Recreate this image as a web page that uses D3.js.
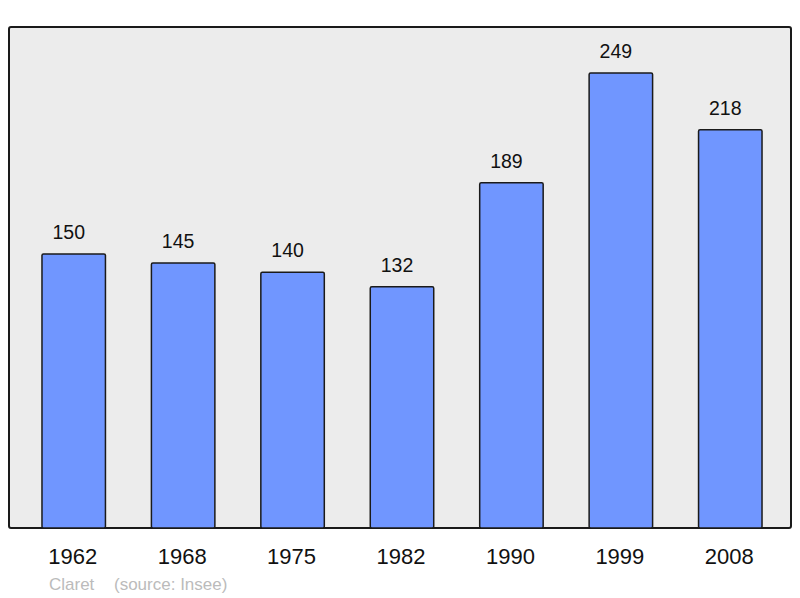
<!DOCTYPE html>
<html>
<head>
<meta charset="utf-8">
<script src="https://cdn.jsdelivr.net/npm/d3@7"></script>
<style>
  body { margin: 0; background: #fff; }
  text { font-family: "Liberation Sans", Arial, sans-serif; }
</style>
</head>
<body>
<div id="chart"></div>
<script>
// population by census year
const years = ["1962", "1968", "1975", "1982", "1990", "1999", "2008"];
const population = [150, 145, 140, 132, 189, 249, 218];
const footerName = "Claret";
const footerSource = "(source: Insee)";

const width = 800, height = 598;
const panel = { left: 9, top: 27, right: 791, bottom: 528 };

const svg = d3.select("#chart").append("svg")
  .attr("width", width)
  .attr("height", height);

// background panel
svg.append("rect")
  .attr("x", panel.left)
  .attr("y", panel.top)
  .attr("width", panel.right - panel.left)
  .attr("height", panel.bottom - panel.top)
  .attr("rx", 2)
  .attr("fill", "#ececec")
  .attr("stroke", "#1a1a1a")
  .attr("stroke-width", 2);

const data = years.map((y, i) => ({ year: y, value: population[i] }));

const x = d3.scaleBand()
  .domain(years)
  .range([19, 785])
  .paddingInner(0.42)
  .paddingOuter(0.21);

const y = d3.scaleLinear()
  .domain([0, 249])
  .range([panel.bottom, 73]);

// bars
svg.append("g")
  .selectAll("rect")
  .data(data)
  .enter()
  .append("rect")
  .attr("x", (d) => x(d.year))
  .attr("y", (d) => y(d.value))
  .attr("width", x.bandwidth())
  .attr("height", (d) => y(0) - y(d.value))
  .attr("rx", 1.5)
  .attr("fill", "#7096ff")
  .attr("stroke", "#1a1a1a")
  .attr("stroke-width", 1.5);

// value labels (sit a little left of the bar centre, like the original)
svg.append("g")
  .selectAll("text")
  .data(data)
  .enter()
  .append("text")
  .attr("x", (d) => x(d.year) + x.bandwidth() / 2 - 5)
  .attr("y", (d) => y(d.value) - 15)
  .attr("text-anchor", "middle")
  .style("font-size", "19.5px")
  .attr("fill", "#111")
  .text((d) => d.value);

// year axis labels
const xAxis = d3.axisBottom(x).tickSize(0).tickPadding(0);
const axisG = svg.append("g")
  .attr("transform", `translate(-1, ${panel.bottom})`)
  .call(xAxis);
axisG.select(".domain").remove();
axisG.selectAll("text")
  .attr("dy", null)
  .attr("y", 36)
  .style("font-size", "22px")
  .style("font-family", "'Liberation Sans', Arial, sans-serif")
  .attr("fill", "#111");

// footer
svg.append("text")
  .attr("x", 49)
  .attr("y", 590)
  .style("font-size", "17px")
  .attr("fill", "#bbbbbb")
  .text(footerName);
svg.append("text")
  .attr("x", 114)
  .attr("y", 590)
  .style("font-size", "17px")
  .attr("fill", "#bbbbbb")
  .text(footerSource);
</script>
</body>
</html>
